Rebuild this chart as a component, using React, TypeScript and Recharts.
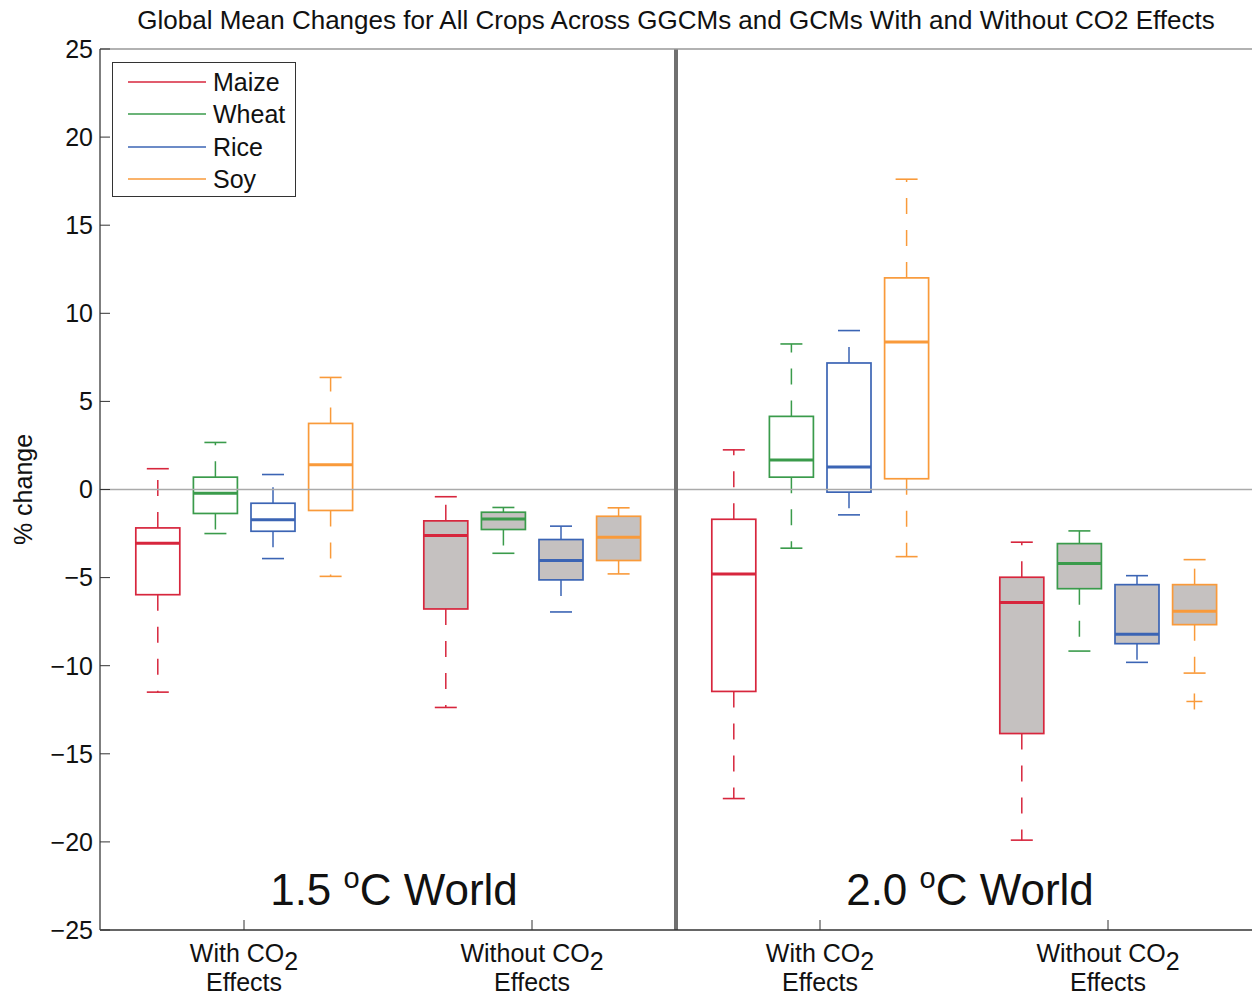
import React from 'react';
import {
  ComposedChart,
  Bar,
  Scatter,
  XAxis,
  YAxis,
  ReferenceLine,
  ReferenceDot,
  Legend,
} from 'recharts';

const title = 'Global Mean Changes for All Crops Across GGCMs and GCMs With and Without CO2 Effects';
const crops = ['Maize', 'Wheat', 'Rice', 'Soy'];
const groupLabels = ['With CO2', 'Without CO2', 'With CO2', 'Without CO2'];
const groupTicks = [1, 2, 3, 4];
const yTicks = [-25, -20, -15, -10, -5, 0, 5, 10, 15, 20, 25];
const worlds = ['1.5', '2.0'];

// per group: [lower whisker, q1, median, q3, upper whisker]
const maize = [
  [-11.5, -5.97, -3.05, -2.18, 1.18],
  [-12.37, -6.78, -2.61, -1.78, -0.41],
  [-17.54, -11.46, -4.79, -1.69, 2.25],
  [-19.9, -13.85, -6.42, -4.98, -2.99],
];
const wheat = [
  [-2.5, -1.36, -0.21, 0.7, 2.67],
  [-3.62, -2.27, -1.67, -1.29, -1.02],
  [-3.33, 0.7, 1.67, 4.15, 8.26],
  [-9.17, -5.63, -4.2, -3.07, -2.35],
];
const rice = [
  [-3.92, -2.37, -1.72, -0.78, 0.85],
  [-6.95, -5.13, -4.03, -2.84, -2.08],
  [-1.44, -0.15, 1.27, 7.18, 9.02],
  [-9.81, -8.75, -8.22, -5.4, -4.89],
];
const soy = [
  [-4.93, -1.19, 1.4, 3.75, 6.36],
  [-4.79, -4.03, -2.71, -1.52, -1.04],
  [-3.81, 0.61, 8.37, 12.01, 17.61],
  [-10.42, -7.67, -6.91, -5.4, -3.98],
];
// outliers per group
const maizeOut: number[][] = [[], [], [], []];
const wheatOut: number[][] = [[], [], [], []];
const riceOut: number[][] = [[], [], [], []];
const soyOut: number[][] = [[], [], [], [-12.03]];

const cropStats = [maize, wheat, rice, soy];
const cropOutliers = [maizeOut, wheatOut, riceOut, soyOut];
const cropColors = ['#d7263d', '#3a9b4b', '#3b64b4', '#f99a3a'];
const cropOffset = [-0.3, -0.1, 0.1, 0.3];
const groupFilled = [false, true, false, true];
const GRAY = '#c5c1c0';
const FONT = '"Liberation Sans", Arial, Helvetica, sans-serif';

const boxRows = groupTicks.flatMap((g, gi) =>
  crops.map((crop, ci) => {
    const [low, q1, median, q3, high] = cropStats[ci][gi];
    return {
      x: g + cropOffset[ci],
      crop,
      low,
      q1,
      median,
      q3,
      high,
      color: cropColors[ci],
      filled: groupFilled[gi],
    };
  })
);

const outlierRows = groupTicks.flatMap((g, gi) =>
  crops.flatMap((crop, ci) =>
    cropOutliers[ci][gi].map((v) => ({ x: g + cropOffset[ci], y: v, color: cropColors[ci] }))
  )
);

const BoxShape = (props: any) => {
  const { x, y, width, height, payload } = props;
  if (!payload || height == null || width == null) return null;
  const { low, q1, median, q3, high, color, filled } = payload;
  const top = Math.min(y, y + height);
  const k = Math.abs(height) / (high - low);
  const py = (v: number) => top + (high - v) * k;
  const cx = x + width / 2;
  const cap = width / 4;
  return (
    <g>
      <line x1={cx} x2={cx} y1={py(q3)} y2={py(high)} stroke={color} strokeWidth={1.5} strokeDasharray="16 16" />
      <line x1={cx} x2={cx} y1={py(q1)} y2={py(low)} stroke={color} strokeWidth={1.5} strokeDasharray="16 16" />
      <line x1={cx - cap} x2={cx + cap} y1={py(high)} y2={py(high)} stroke={color} strokeWidth={1.6} />
      <line x1={cx - cap} x2={cx + cap} y1={py(low)} y2={py(low)} stroke={color} strokeWidth={1.6} />
      <rect
        x={x}
        y={py(q3)}
        width={width}
        height={py(q1) - py(q3)}
        fill={filled ? GRAY : 'none'}
        stroke={color}
        strokeWidth={1.7}
      />
      <line x1={x} x2={x + width} y1={py(median)} y2={py(median)} stroke={color} strokeWidth={3} />
    </g>
  );
};

const PlusShape = (props: any) => {
  const { cx, cy, payload } = props;
  return (
    <g stroke={payload.color} strokeWidth={1.5}>
      <line x1={cx - 8} x2={cx + 8} y1={cy} y2={cy} />
      <line x1={cx} x2={cx} y1={cy - 8} y2={cy + 8} />
    </g>
  );
};

const GroupTick = (props: any) => {
  const { x, y, payload } = props;
  const label = groupLabels[groupTicks.indexOf(payload.value)] || '';
  return (
    <g fontFamily={FONT} fontSize={25} fill="#111">
      <text x={x} y={y + 32} textAnchor="middle">
        {label.slice(0, -1)}
        <tspan dy={8}>{label.slice(-1)}</tspan>
      </text>
      <text x={x} y={y + 61} textAnchor="middle">
        Effects
      </text>
    </g>
  );
};

const fmtY = (v: number) => (v < 0 ? '\u2212' + Math.abs(v) : String(v));

const YLabel = (props: any) => {
  const vb = props.viewBox || { y: 50, height: 880 };
  const cy = vb.y + vb.height / 2;
  return (
    <text
      x={32}
      y={cy}
      transform={`rotate(-90, 32, ${cy})`}
      textAnchor="middle"
      fontFamily={FONT}
      fontSize={25}
      fill="#111"
    >
      % change
    </text>
  );
};

const worldLabel = (deg: string) => (props: any) => {
  const vb = props.viewBox;
  if (!vb) return null;
  const cx = vb.x + vb.width / 2 + 6;
  const cy = vb.y + vb.height / 2;
  return (
    <text x={cx} y={cy} textAnchor="middle" fontFamily={FONT} fontSize={44} fill="#111">
      {deg + ' '}
      <tspan fontSize={29} dy={-17}>o</tspan>
      <tspan dy={17}>C World</tspan>
    </text>
  );
};

const LegendBox = () => (
  <div
    style={{
      width: 184,
      height: 135,
      boxSizing: 'border-box',
      border: '1.3px solid #333',
      background: '#fff',
      paddingTop: 3,
      fontFamily: FONT,
      fontSize: 25,
      color: '#111',
    }}
  >
    {crops.map((c, i) => (
      <div key={c} style={{ height: 32.3, display: 'flex', alignItems: 'center' }}>
        <svg width={100} height={10} style={{ flex: 'none' }}>
          <line x1={15} x2={93} y1={5} y2={5} stroke={cropColors[i]} strokeWidth={1.3} />
        </svg>
        <span style={{ lineHeight: '32px' }}>{c}</span>
      </div>
    ))}
  </div>
);

export default function App() {
  return (
    <div style={{ position: 'absolute', left: 0, top: 0, width: 1252, height: 998, background: '#fff' }}>
      <ComposedChart
        width={1252}
        height={998}
        data={boxRows}
        margin={{ top: 49, right: 0, bottom: 0, left: 0 }}
        style={{ fontFamily: FONT }}
      >
        <XAxis
          xAxisId="b"
          dataKey="x"
          type="number"
          domain={[0.5, 4.5]}
          ticks={groupTicks}
          interval={0}
          allowDataOverflow
          height={68}
          tickSize={-10}
          tickMargin={10}
          tick={<GroupTick />}
          tickLine={{ stroke: '#333' }}
          axisLine={{ stroke: '#333', strokeWidth: 1.5 }}
        />
        <XAxis
          xAxisId="t"
          orientation="top"
          type="number"
          domain={[0.5, 4.5]}
          ticks={groupTicks}
          interval={0}
          allowDataOverflow
          height={1}
          mirror
          tickSize={10}
          tick={false}
          tickLine={{ stroke: '#333' }}
          axisLine={{ stroke: '#999', strokeWidth: 1.5 }}
        />
        <YAxis
          yAxisId="l"
          type="number"
          domain={[-25, 25]}
          ticks={yTicks}
          interval={0}
          allowDataOverflow
          width={100}
          tickSize={-10}
          tickMargin={17}
          tickFormatter={fmtY}
          tick={{ fontSize: 25, fill: '#111', fontFamily: FONT }}
          tickLine={{ stroke: '#333' }}
          axisLine={{ stroke: '#555', strokeWidth: 1.5 }}
          label={YLabel}
        />
        <YAxis
          yAxisId="r"
          orientation="right"
          type="number"
          domain={[-25, 25]}
          ticks={yTicks}
          interval={0}
          allowDataOverflow
          width={1}
          mirror
          tickSize={10}
          tick={false}
          tickLine={{ stroke: '#333' }}
          axisLine={false}
        />
        <ReferenceLine xAxisId="b" yAxisId="l" y={0} stroke="#aaa" strokeWidth={1.5} />
        <ReferenceLine xAxisId="b" yAxisId="l" x={2.5} stroke="#707070" strokeWidth={4} />
        <Bar
          xAxisId="b"
          yAxisId="l"
          dataKey={(d: any) => [d.low, d.high]}
          barSize={44}
          shape={<BoxShape />}
          isAnimationActive={false}
        />
        <Scatter
          xAxisId="b"
          yAxisId="l"
          data={outlierRows}
          dataKey="y"
          shape={<PlusShape />}
          isAnimationActive={false}
        />
        {worlds.map((w, i) => (
          <ReferenceDot
            key={w}
            xAxisId="b"
            yAxisId="l"
            x={1.5 + 2 * i}
            y={-23.6}
            r={1}
            fill="none"
            stroke="none"
            label={worldLabel(w)}
          />
        ))}
        <Legend
          layout="vertical"
          align="center"
          verticalAlign="middle"
          content={<LegendBox />}
          wrapperStyle={{ position: 'absolute', left: 112, top: 62, width: 184, height: 135 }}
        />
      </ComposedChart>
      <div
        style={{
          position: 'absolute',
          left: 100,
          top: 2,
          width: 1152,
          textAlign: 'center',
          fontFamily: FONT,
          fontSize: 26,
          lineHeight: '36px',
          color: '#111',
          whiteSpace: 'nowrap',
        }}
      >
        {title}
      </div>
    </div>
  );
}
